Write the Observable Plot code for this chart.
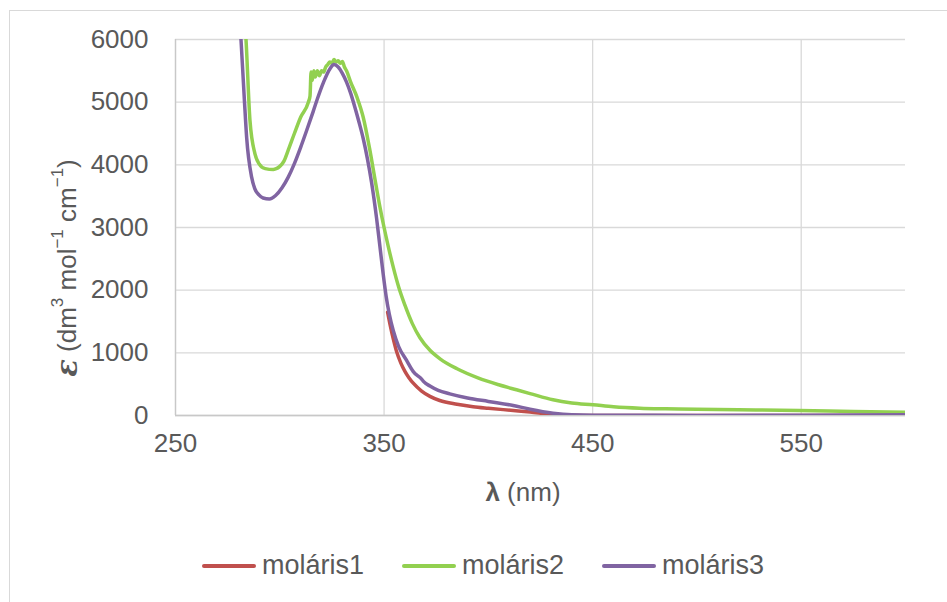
<!DOCTYPE html>
<html>
<head>
<meta charset="utf-8">
<script src="https://cdn.jsdelivr.net/npm/d3@7"></script>
<script src="https://cdn.jsdelivr.net/npm/@observablehq/plot@0.6"></script>
<style>
  html, body { margin: 0; padding: 0; background: #ffffff; }
  #wrap { position: relative; width: 947px; height: 602px; overflow: hidden; background: #fff; }
  #frame { position: absolute; left: 9px; top: 10px; width: 1000px; height: 700px; border: 1.5px solid #d9d9d9; box-sizing: border-box; }
  #chart { position: absolute; left: 0; top: 0; }
  #legend { position: absolute; left: 202px; top: 550px; display: flex; align-items: center;
            font-family: "Liberation Sans", Arial, sans-serif; font-size: 27px; color: #595959; }
  .item { display: flex; align-items: center; margin-right: 38px; }
  .sw { width: 54px; height: 4px; border-radius: 2px; margin-right: 6px; }
</style>
</head>
<body>
<div id="wrap">
  <div id="frame"></div>
  <div id="chart"></div>
  <div id="legend"></div>
</div>
<script>
// ---- data ----
const seriesNames = ["moláris1", "moláris2", "moláris3"];
const seriesColors = ["#C0504D", "#92D050", "#8064A2"];
const xTicks = [250, 350, 450, 550];
const yTicks = [0, 1000, 2000, 3000, 4000, 5000, 6000];

const wl1 = [351.7, 353, 354.5, 356, 358, 360, 362, 364, 368, 372, 376.7, 385, 392.7, 400, 411.9, 420, 431, 440, 450, 500, 550, 600];
const eps1 = [1649, 1430, 1210, 1020, 840, 705, 600, 515, 390, 305, 239, 180, 140, 115, 80, 55, 16, 5, 0, 0, 0, 0];

const wl2 = [280, 283.8, 285.7, 288.1, 290, 293, 296.9, 298, 300, 302, 304, 307, 310, 313.7, 314.5, 315, 315.6, 316.3, 317, 318, 319, 320, 321, 322, 323, 324, 325, 326, 327, 328, 329, 330, 331, 332, 334, 337, 340, 343, 346, 348, 350, 352, 354.4, 357, 360, 363.5, 367.2, 372, 377, 385, 395, 405, 413.5, 420, 431, 440, 450.2, 460, 472.6, 485, 500, 520, 549, 575, 600];
const eps2 = [7200, 6000, 4708, 4176, 4020, 3940, 3926, 3935, 3975, 4060, 4230, 4500, 4760, 5000, 5100, 5480, 5350, 5500, 5400, 5500, 5420, 5500, 5480, 5560, 5600, 5640, 5620, 5680, 5640, 5660, 5620, 5650, 5560, 5500, 5320, 5080, 4760, 4270, 3700, 3330, 3000, 2700, 2367, 2050, 1760, 1470, 1240, 1040, 900, 745, 600, 490, 410, 350, 250, 200, 171, 140, 117, 107, 100, 92, 80, 65, 53];

const wl3 = [279, 281.4, 283, 284.1, 286.5, 288, 290, 292, 295, 298, 301, 304, 307, 310, 313, 316, 318, 321, 324, 326, 328, 330, 332, 334, 336, 338, 340, 342, 344, 346.4, 348, 349.6, 351, 352.5, 354.4, 357, 360.8, 364, 368, 369, 372, 376, 381.5, 390, 400, 411.9, 420, 431, 440, 450, 500, 550, 600];
const eps3 = [7200, 6000, 5050, 4442, 3803, 3620, 3520, 3470, 3455, 3510, 3630, 3800, 4020, 4280, 4560, 4850, 5050, 5320, 5530, 5600, 5560, 5460, 5320, 5140, 4920, 4680, 4420, 4100, 3720, 3150, 2700, 2250, 1900, 1620, 1357, 1100, 878, 700, 580, 540, 470, 400, 346, 280, 225, 160, 100, 37, 10, 3, 2, 5, 10];

const toRows = (w, e) => w.map((x, i) => ({x, y: e[i]}));
const rows = [toRows(wl1, eps1), toRows(wl2, eps2), toRows(wl3, eps3)];

const fontFam = '"Liberation Sans", Arial, sans-serif';
const chart = Plot.plot({
  width: 947,
  height: 530,
  marginLeft: 175,
  marginRight: 42,
  marginTop: 39,
  marginBottom: 115,
  x: {domain: [250, 600]},
  y: {domain: [0, 6000]},
  style: {fontFamily: fontFam, fontSize: "26px", color: "#595959", background: "transparent"},
  marks: [
    Plot.gridY(yTicks, {stroke: "#d9d9d9", strokeOpacity: 1, strokeWidth: 1.3}),
    Plot.gridX(xTicks, {stroke: "#d9d9d9", strokeOpacity: 1, strokeWidth: 1.3}),
    Plot.ruleX([250], {stroke: "#c8c8c8", strokeWidth: 1.3}),
    Plot.ruleY([0], {stroke: "#c8c8c8", strokeWidth: 1.3}),
    Plot.axisY(yTicks, {tickSize: 0, tickPadding: 27, label: null, fontSize: 26, tickFormat: d => String(d)}),
    Plot.axisX(xTicks, {tickSize: 0, tickPadding: 18, label: null, fontSize: 26, tickFormat: d => String(d)}),
    ...rows.map((r, i) => Plot.line(r, {x: "x", y: "y", stroke: seriesColors[i], strokeWidth: 3.5, curve: "monotone-x", clip: true}))
  ]
});
document.getElementById("chart").appendChild(chart);

// axis titles with rich text
const svg = d3.select(chart);
const yl = svg.append("text")
  .attr("transform", "translate(67,268) rotate(-90)")
  .attr("text-anchor", "middle")
  .attr("dominant-baseline", "central")
  .attr("fill", "#595959")
  .style("font-family", fontFam)
  .style("font-size", "26px");
yl.append("tspan").text("ε").style("font-weight", "bold").style("font-style", "italic").style("font-family", '"DejaVu Serif", serif').style("font-size", "29px");
yl.append("tspan").text(" (dm");
yl.append("tspan").text("3").attr("baseline-shift", "super").style("font-size", "17px");
yl.append("tspan").text(" mol");
yl.append("tspan").text("−1").attr("baseline-shift", "super").style("font-size", "17px");
yl.append("tspan").text(" cm");
yl.append("tspan").text("−1").attr("baseline-shift", "super").style("font-size", "17px");
yl.append("tspan").text(")");

const xl = svg.append("text")
  .attr("x", 523).attr("y", 501)
  .attr("text-anchor", "middle")
  .attr("fill", "#595959")
  .style("font-family", fontFam)
  .style("font-size", "26px");
xl.append("tspan").text("λ").style("font-weight", "bold");
xl.append("tspan").text(" (nm)");

// legend
const leg = d3.select("#legend");
seriesNames.forEach((n, i) => {
  const it = leg.append("div").attr("class", "item");
  it.append("div").attr("class", "sw").style("background", seriesColors[i]);
  it.append("span").text(n);
});
</script>
</body>
</html>
